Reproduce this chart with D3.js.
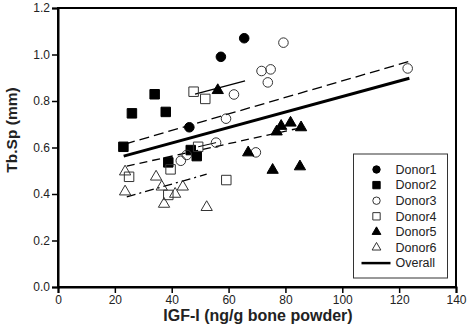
<!DOCTYPE html>
<html>
<head>
<meta charset="utf-8">
<script src="https://cdn.jsdelivr.net/npm/d3@7"></script>
<style>
  body { margin: 0; background: #fff; }
  text { font-family: "Liberation Sans", Arial, sans-serif; }
</style>
</head>
<body>
<div id="main"></div>
<script>
// data
var donorNames = ["Donor1", "Donor2", "Donor3", "Donor4", "Donor5", "Donor6"];
var donor1 = [[65.5, 1.07], [57.3, 0.99], [46.2, 0.687]];
var donor2 = [[34.0, 0.829], [26.0, 0.747], [37.9, 0.753], [23.0, 0.603], [38.8, 0.536], [46.7, 0.589], [48.8, 0.563]];
var donor3 = [[71.6, 0.929], [74.8, 0.936], [73.8, 0.880], [79.3, 1.051], [123.0, 0.94], [61.9, 0.828],
              [59.1, 0.724], [55.6, 0.621], [43.2, 0.543], [45.3, 0.568], [69.6, 0.579]];
var donor4 = [[47.7, 0.840], [51.8, 0.809], [49.3, 0.603], [25.0, 0.474], [39.6, 0.506], [59.2, 0.460], [38.8, 0.396]];
var donor5 = [[56.2, 0.846], [78.5, 0.692], [81.8, 0.706], [85.5, 0.686], [76.9, 0.668], [66.9, 0.578], [75.5, 0.503], [85.1, 0.518]];
var donor6 = [[23.6, 0.496], [34.5, 0.474], [36.5, 0.431], [43.9, 0.431], [41.2, 0.40], [23.6, 0.41], [37.3, 0.357], [52.3, 0.343]];

// fitted lines: [x0, y0, x1, y1]
var fitDonor1 = [48.2, 0.830, 65.8, 0.887];
var fitUpper = [23.6, 0.615, 123.2, 0.969];
var fitLower = [24.2, 0.520, 85.1, 0.684];
var fitShort = [49.3, 0.603, 55.6, 0.621];
var fitDonor6 = [24.2, 0.388, 52.3, 0.485];
var fitOverall = [23.1, 0.563, 123.6, 0.898];

var xTicks = [0, 20, 40, 60, 80, 100, 120, 140];
var yTicks = [0, 0.2, 0.4, 0.6, 0.8, 1.0, 1.2];

var margin = {top: 8, right: 12, bottom: 47, left: 58},
    width = 468 - margin.left - margin.right,
    height = 334 - margin.top - margin.bottom;

var translate = function(x, y) {
  return "translate(" + x + "," + y + ")";
};

var x = d3.scaleLinear().domain([0, 140]).range([0, width]);
var y = d3.scaleLinear().domain([0, 1.2]).range([height, 0]);

var svg = d3.select("#main").append("svg")
    .attr("width", 468)
    .attr("height", 334)
  .append("g")
    .attr("transform", translate(margin.left, margin.top));

// frame
svg.append("rect")
    .attr("width", width)
    .attr("height", height)
    .attr("fill", "none")
    .attr("stroke", "#000")
    .attr("stroke-width", 2);

var xAxis = svg.append("g")
    .attr("transform", translate(0, height))
    .call(d3.axisBottom(x).tickValues(xTicks).tickSize(6).tickPadding(2).tickFormat(d3.format("d")));
var yAxis = svg.append("g")
    .call(d3.axisLeft(y).tickValues(yTicks).tickSize(6).tickPadding(2).tickFormat(d3.format(".1f")));

[xAxis, yAxis].forEach(function(a) {
  a.select(".domain").attr("stroke-width", 2);
  a.selectAll(".tick line").attr("stroke-width", 1.5);
  a.selectAll("text").attr("font-size", 12).attr("fill", "#222")
    .style("font-family", "'Liberation Sans', Arial, sans-serif");
});

// regression lines
var fits = [
  {f: fitUpper, dash: "10,5", w: 1.3},
  {f: fitLower, dash: "8,5", w: 1.3},
  {f: fitDonor1, dash: null, w: 1.3},
  {f: fitShort, dash: null, w: 1},
  {f: fitDonor6, dash: "9,4,2,4", w: 1.3},
  {f: fitOverall, dash: null, w: 3}
];
svg.selectAll(".fit")
    .data(fits)
    .enter().append("line")
      .attr("class", "fit")
      .attr("x1", function(d) { return x(d.f[0]); })
      .attr("y1", function(d) { return y(d.f[1]); })
      .attr("x2", function(d) { return x(d.f[2]); })
      .attr("y2", function(d) { return y(d.f[3]); })
      .attr("stroke", "#000")
      .attr("stroke-width", function(d) { return d.w; })
      .attr("stroke-dasharray", function(d) { return d.dash; });

// marker styles per donor
var styles = [
  {type: d3.symbolCircle, size: 72, fill: "#000"},
  {type: d3.symbolSquare, size: 90, fill: "#000"},
  {type: d3.symbolCircle, size: 72, fill: "none"},
  {type: d3.symbolSquare, size: 90, fill: "none"},
  {type: d3.symbolTriangle, size: 55, fill: "#000"},
  {type: d3.symbolTriangle, size: 55, fill: "none"}
];
var series = [donor1, donor2, donor3, donor4, donor5, donor6];

series.forEach(function(pts, i) {
  var s = styles[i];
  svg.selectAll(".pt" + i)
      .data(pts)
      .enter().append("path")
        .attr("class", "pt" + i)
        .attr("transform", function(d) { return translate(x(d[0]), y(d[1])); })
        .attr("d", d3.symbol().type(s.type).size(s.size))
        .attr("fill", s.fill)
        .attr("stroke", s.fill === "none" ? "#333" : "#000")
        .attr("stroke-width", 1);
});

// legend
var legend = svg.append("g").attr("transform", translate(295.5, 146));
legend.append("rect")
    .attr("width", 94)
    .attr("height", 124)
    .attr("fill", "#fff")
    .attr("stroke", "#333")
    .attr("stroke-width", 1);

var rows = donorNames.concat(["Overall"]);
var rowY = function(i) { return 15.5 + i * 15.6; };
rows.forEach(function(name, i) {
  var g = legend.append("g").attr("transform", translate(23, rowY(i)));
  if (i < 6) {
    var s = styles[i];
    g.append("path")
      .attr("d", d3.symbol().type(s.type).size(s.size * 0.6))
      .attr("fill", s.fill)
      .attr("stroke", s.fill === "none" ? "#333" : "#000")
      .attr("stroke-width", 1);
  } else {
    g.append("line")
      .attr("x1", -15).attr("x2", 14)
      .attr("stroke", "#000").attr("stroke-width", 2.5);
  }
  g.append("text")
    .attr("x", 19)
    .attr("dy", "0.35em")
    .attr("font-size", 12.5)
    .attr("fill", "#222")
    .text(name);
});

// axis titles
svg.append("text")
    .attr("x", width / 2 + 1)
    .attr("y", height + 34)
    .attr("text-anchor", "middle")
    .attr("font-size", 16)
    .attr("font-weight", "bold")
    .attr("fill", "#222")
    .text("IGF-I (ng/g bone powder)");

svg.append("text")
    .attr("transform", translate(-41, 122) + " rotate(-90)")
    .attr("text-anchor", "middle")
    .attr("font-size", 15.5)
    .attr("font-weight", "bold")
    .attr("fill", "#222")
    .text("Tb.Sp (mm)");
</script>
</body>
</html>
